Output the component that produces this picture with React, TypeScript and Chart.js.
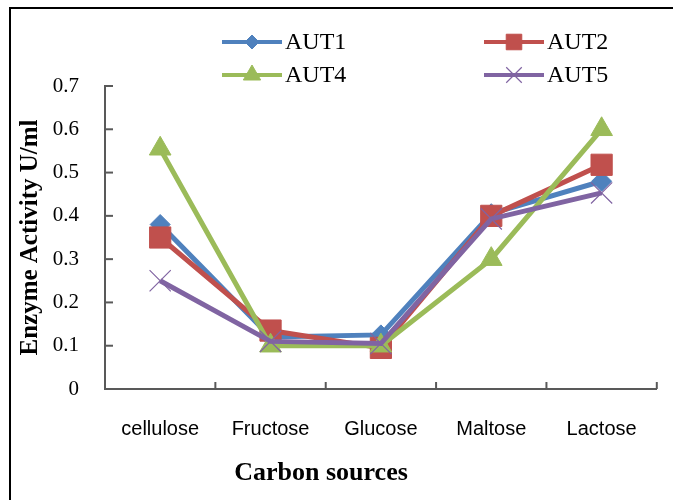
import React, { useEffect, useRef } from 'react';
import { Chart, registerables } from 'chart.js';
import { drawPoint } from 'chart.js/helpers';

Chart.register(...registerables);

const categories = ['cellulose', 'Fructose', 'Glucose', 'Maltose', 'Lactose'];
const aut1 = [0.38, 0.12, 0.125, 0.405, 0.48];
const aut2 = [0.35, 0.135, 0.095, 0.4, 0.518];
const aut4 = [0.555, 0.1, 0.1, 0.3, 0.6];
const aut5 = [0.25, 0.11, 0.105, 0.393, 0.453];
const seriesNames = ['AUT1', 'AUT2', 'AUT4', 'AUT5'];
const yTitle = 'Enzyme Activity U/ml';
const xTitle = 'Carbon sources';

const colors = ['#4F81BD', '#C0504D', '#9BBB59', '#8064A2'];
const pointStyles = ['rectRot', 'rect', 'triangle', 'crossRot'];
const pointRadii = [10, 15, 12.5, 15];
const legendRadii = [7, 11, 10, 11];
const axisColor = '#595959';
const serif = '"Liberation Serif", "Times New Roman", serif';
const sans = '"Liberation Sans", Arial, sans-serif';

const innerTicks = {
  id: 'innerTicks',
  afterDraw(chart: any) {
    const { ctx, chartArea } = chart;
    const x = chart.scales.x;
    const y = chart.scales.y;
    ctx.save();
    ctx.strokeStyle = axisColor;
    ctx.lineWidth = 2;
    y.ticks.forEach((t: any) => {
      const py = y.getPixelForValue(t.value);
      ctx.beginPath();
      ctx.moveTo(chartArea.left, py);
      ctx.lineTo(chartArea.left + 8, py);
      ctx.stroke();
    });
    for (let i = 1; i <= categories.length; i++) {
      const px = x.getPixelForValue(i - 0.5);
      ctx.beginPath();
      ctx.moveTo(px, chartArea.bottom);
      ctx.lineTo(px, chartArea.bottom - 7);
      ctx.stroke();
    }
    ctx.restore();
  },
};

const customLegend = {
  id: 'customLegend',
  afterDraw(chart: any) {
    const { ctx } = chart;
    ctx.save();
    chart.data.datasets.forEach((ds: any, i: number) => {
      const col = i % 2;
      const row = Math.floor(i / 2);
      const x0 = 222 + col * 262;
      const x1 = x0 + 60;
      const yy = 42 + row * 33;
      ctx.strokeStyle = ds.borderColor;
      ctx.lineWidth = 4;
      ctx.beginPath();
      ctx.moveTo(x0, yy);
      ctx.lineTo(x1, yy);
      ctx.stroke();
      ctx.fillStyle = ds.pointBackgroundColor;
      ctx.strokeStyle = ds.pointBorderColor;
      ctx.lineWidth = ds.pointBorderWidth;
      drawPoint(ctx, { pointStyle: ds.pointStyle, radius: legendRadii[i], rotation: 0, borderWidth: ds.pointBorderWidth } as any, (x0 + x1) / 2, yy);
      ctx.fillStyle = '#000';
      ctx.font = '24px ' + serif;
      ctx.textBaseline = 'middle';
      ctx.textAlign = 'left';
      ctx.fillText(ds.label, x1 + 3, yy + 1);
    });
    ctx.restore();
  },
};

const xTitlePlugin = {
  id: 'xTitlePlugin',
  afterDraw(chart: any) {
    const { ctx } = chart;
    ctx.save();
    ctx.fillStyle = '#000';
    ctx.font = 'bold 26px ' + serif;
    ctx.textAlign = 'center';
    ctx.textBaseline = 'alphabetic';
    ctx.fillText(xTitle, 321, 480);
    ctx.restore();
  },
};

export default function App() {
  const ref = useRef<HTMLCanvasElement | null>(null);
  useEffect(() => {
    if (!ref.current) return;
    const values = [aut1, aut2, aut4, aut5];
    const chart = new Chart(ref.current, {
      type: 'line',
      data: {
        labels: categories,
        datasets: seriesNames.map((name, i) => ({
          label: name,
          data: values[i],
          borderColor: colors[i],
          backgroundColor: colors[i],
          borderWidth: 5,
          tension: 0,
          pointStyle: pointStyles[i],
          pointRadius: pointRadii[i],
          pointHoverRadius: pointRadii[i],
          pointBackgroundColor: colors[i],
          pointBorderColor: colors[i],
          pointBorderWidth: i === 3 ? 1.2 : 1,
          order: 3 - i,
        })),
      },
      options: {
        animation: false,
        responsive: false,
        devicePixelRatio: 1,
        layout: { padding: { left: 10, top: 86, right: 5, bottom: 0 } },
        plugins: { legend: { display: false }, tooltip: { enabled: false }, title: { display: false } },
        scales: {
          x: {
            type: 'category',
            offset: true,
            grid: { display: false, drawTicks: false, offset: true },
            border: { display: true, color: axisColor, width: 2 },
            ticks: { color: '#000', font: { family: sans, size: 20 }, padding: 28, maxRotation: 0, autoSkip: false },
            afterFit: (s: any) => { s.height = 111; },
          },
          y: {
            min: 0,
            max: 0.7,
            ticks: { stepSize: 0.1, color: '#000', font: { family: serif, size: 21 }, padding: 26 },
            grid: { display: false, drawTicks: false },
            border: { display: true, color: axisColor, width: 2 },
            title: { display: true, text: yTitle, color: '#000', font: { family: serif, size: 25, weight: 'bold' }, padding: { top: 6, bottom: 0 } },
            afterFit: (s: any) => { s.width = 95; },
          },
        },
      },
      plugins: [innerTicks, customLegend, xTitlePlugin],
    } as any);
    return () => chart.destroy();
  }, []);
  return (
    <div style={{ position: 'fixed', left: 0, top: 0, width: 673, height: 500, background: '#fff', overflow: 'hidden' }}>
      <canvas ref={ref} width={673} height={500} style={{ position: 'absolute', left: 0, top: 0 }} />
      <div style={{ position: 'absolute', left: 9, top: 7, width: 800, height: 700, border: '2px solid #000', pointerEvents: 'none' }} />
    </div>
  );
}
